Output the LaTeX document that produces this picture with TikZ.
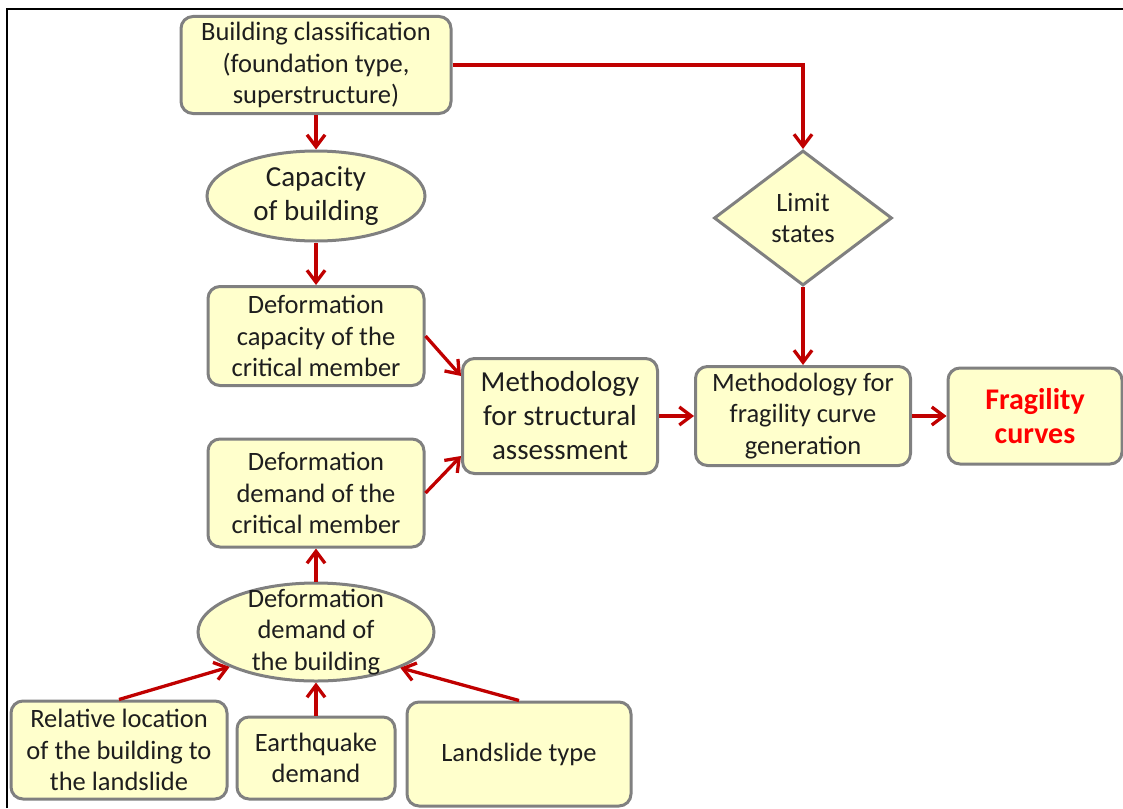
\documentclass[tikz,border=0pt]{standalone}
\usepackage{fontspec}
\setmainfont{Carlito}
\usetikzlibrary{shapes.geometric,arrows.meta}
\definecolor{boxfill}{RGB}{255,255,204}
\definecolor{boxline}{RGB}{128,128,128}
\definecolor{linkred}{RGB}{192,0,0}
\definecolor{textgray}{RGB}{30,30,30}
\tikzset{
    box/.style = {rectangle, rounded corners=12pt, draw=boxline, fill=boxfill,
        line width=3pt, align=center, text=textgray, inner sep=0pt,
        font=\fontsize{26.5}{31.5}\selectfont},
    bigtext/.style = {font=\fontsize{29}{34}\selectfont},
    oval/.style = {ellipse, draw=boxline, fill=boxfill, line width=3pt, inner sep=0pt},
    rhomb/.style = {diamond, draw=boxline, fill=boxfill, line width=3pt, inner sep=0pt},
    inlabel/.style = {align=center, text=textgray, font=\fontsize{26.5}{31.5}\selectfont},
    link/.style = {->, draw=linkred, line width=3.3pt}
}

\begin{document}
\begin{tikzpicture}[x=1pt, y=-1pt, >={Straight Barb[length=12pt,width=18pt]}]
        \useasboundingbox (0,0) rectangle (1123,808);
        \draw[line width=2.5pt] (7,808) -- (7,9) -- (1123,9);

        \node (classif)[box, minimum width=270, minimum height=97]
        at (316,65) {Building classification\\(foundation type,\\superstructure)};
        \node (capacity)[oval, minimum width=218, minimum height=90,
        label={[inlabel, bigtext]center:Capacity\\of building}] at (316,196) {};
        \node (defcap)[box, minimum width=216, minimum height=99]
        at (316,336) {Deformation\\capacity of the\\critical member};
        \node (defdem)[box, minimum width=216, minimum height=108]
        at (316,493) {Deformation\\demand of the\\critical member};
        \node (bdem)[oval, minimum width=236, minimum height=98,
        label={[inlabel]center:Deformation\\demand of\\the building}] at (316,632) {};

        \node (relloc)[box, minimum width=216, minimum height=98]
        at (119,750) {Relative location\\of the building to\\the landslide};
        \node (quake)[box, minimum width=158, minimum height=82]
        at (316,758) {Earthquake\\demand};
        \node (slide)[box, minimum width=224, minimum height=104]
        at (519,754) {Landslide type};

        \node (methstruct)[box, bigtext, minimum width=195, minimum height=115]
        at (560,416) {Methodology\\for structural\\assessment};
        \node (limit)[rhomb, minimum width=178, minimum height=135,
        label={[inlabel]center:Limit\\states}] at (803,218) {};
        \node (methfrag)[box, minimum width=215, minimum height=99]
        at (803,416) {Methodology for\\fragility curve\\generation};
        \node (frag)[box, minimum width=174, minimum height=96, text=red,
        font=\fontsize{30}{34}\selectfont\bfseries]
        at (1035,416) {Fragility\\curves};

        \path(classif) edge[link] (capacity);
        \draw[link] (classif.east) -| (limit.north);
        \path(capacity) edge[link] (defcap);
        \path(defcap.east) edge[link] (methstruct.158);
        \path(defdem.east) edge[link] (methstruct.202);
        \path(bdem) edge[link] (defdem);
        \path(relloc.north) edge[link] (bdem.202);
        \path(quake) edge[link] (bdem);
        \path(slide.north) edge[link] (bdem.337);
        \path(limit) edge[link] (methfrag);
        \path(methstruct) edge[link] (methfrag);
        \path(methfrag) edge[link] (frag);
    \end{tikzpicture}
\end{document}
